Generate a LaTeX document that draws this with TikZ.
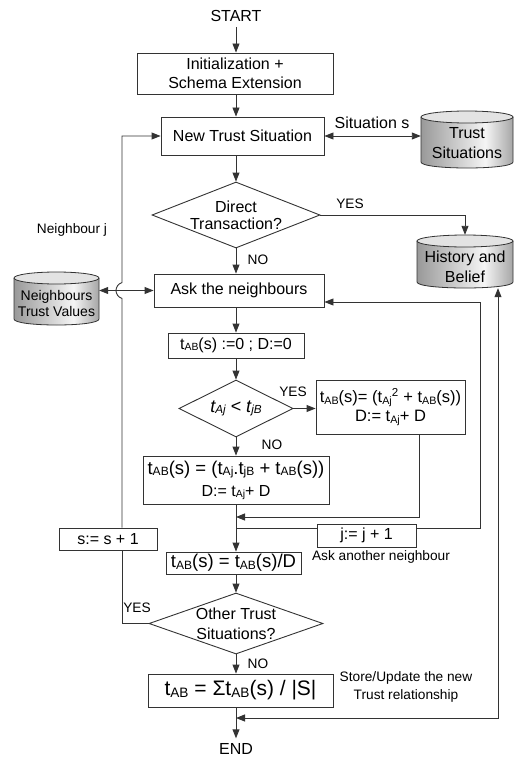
\documentclass[tikz,border=0pt]{standalone}
\usepackage{fontspec}
\setmainfont{Liberation Sans}
\usepackage{graphicx}
\usetikzlibrary{arrows.meta,shapes.geometric,calc}
\definecolor{lc}{gray}{0.2}
\pgfdeclarehorizontalshading{cylshade}{100bp}{color(0bp)=(gray!80); color(25bp)=(gray!80); color(60bp)=(gray!8); color(75bp)=(gray!70); color(100bp)=(gray!70)}
\newcommand{\sbx}[1]{\raisebox{-0.07em}{\scalebox{0.65}{#1}}}
\newcommand{\fs}[2]{\fontsize{#1}{#2}\selectfont}
\newcommand{\drawcyl}[9]{%
  \pgfmathsetmacro{\cylX}{(#2+#3)/2}%
  \pgfmathsetmacro{\cylR}{(#3-#2)/2}%
  \pgfmathsetmacro{\cylT}{#4+6}%
  \pgfmathsetmacro{\cylB}{#5-6}%
  \pgfmathsetmacro{\cylC}{#5+2}%
  \pgfmathsetmacro{\cylW}{#3-#2}%
  \pgfmathsetmacro{\cylH}{#5-#4}%
  \pgfmathsetmacro{\cylM}{(#4+#5)/2}%
  \shade[shading=cylshade] (#2,\cylT) -- (#2,\cylB) .. controls (#2,\cylC) and (#3,\cylC) .. (#3,\cylB) -- (#3,\cylT) -- cycle;
  \fill[gray!22] (\cylX,\cylT) ellipse [x radius=\cylR, y radius=6];
  \draw[lc, line width=0.8pt] (#2,\cylT) -- (#2,\cylB) .. controls (#2,\cylC) and (#3,\cylC) .. (#3,\cylB) -- (#3,\cylT);
  \draw[lc, line width=0.8pt] (\cylX,\cylT) ellipse [x radius=\cylR, y radius=6];
  \node[minimum width=\cylW pt, minimum height=\cylH pt, inner sep=0pt,
    label={[align=center, font=\fs{#6}{#7}, yshift=-#8pt]center:#9}] (#1) at (\cylX,\cylM) {};
}
\begin{document}
\begin{tikzpicture}[x=1pt,y=-1pt,
  font=\fs{16}{19},
  box/.style={draw=lc, line width=0.9pt, inner sep=0pt, fill=white},
  dia/.style={diamond, draw=lc, line width=0.9pt, inner sep=0pt},
  lbl/.style={font=\fs{13.7}{18}, inner sep=0pt},
  txt/.style={inner sep=5pt},
  ln/.style={draw=lc, line width=0.9pt},
  arr/.style={ln, -{Triangle[length=9pt,width=7pt]}},
  darr/.style={ln, {Triangle[length=9pt,width=7pt]}-{Triangle[length=9pt,width=7pt]}}]
\useasboundingbox (0,0) rectangle (514,757);

\coordinate (ax) at (236,0);
\coordinate (lx) at (122,0);
\coordinate (rx) at (498,0);
\coordinate (jx) at (480,302);
\coordinate (jy) at (236,528);
\coordinate (ry) at (419,517);
\coordinate (ey) at (236,718);

% cylinders
\drawcyl{ts}{421}{513}{111}{168}{16}{20}{3.5}{Trust\\Situations}
\drawcyl{hb}{417}{513}{235}{288}{16}{20}{5.5}{History and\\Belief}
\drawcyl{ntv}{14}{99}{272}{325}{14}{16}{4.5}{Neighbours\\Trust Values}

% nodes
\node[txt] (start) at (236,16) {START};
\node[box, minimum width=196pt, minimum height=41pt, align=center] (init) at (235,73.5) {Initialization +\\Schema Extension};
\node[box, minimum width=163pt, minimum height=38pt] (nts) at (242.5,136) {New Trust Situation};
\node[inner sep=0pt] (sits) at (372,123) {Situation s};
\node[dia, minimum width=168pt, minimum height=66pt,
  label={[align=center, font=\fs{16}{17}]center:Direct\\Transaction?}] (dt) at (236,215) {};
\node[lbl] (yes1) at (350,204) {YES};
\node[lbl] (nj) at (72,230) {Neighbour j};
\node[lbl] (no1) at (258,260) {NO};
\node[box, minimum width=170pt, minimum height=33pt] (ask) at (239,290.5) {Ask the neighbours};
\node[box, minimum width=136pt, minimum height=25pt] (ti) at (236,345.5) {t\sbx{AB}(s) :=0 ; D:=0};
\node[dia, minimum width=114pt, minimum height=57pt,
  label={[font=\itshape\fs{18}{20}]center:t\sbx{Aj} < t\sbx{jB}}] (d2) at (236,408.5) {};
\node[lbl] (yes2) at (293,392) {YES};
\node[box, minimum width=149pt, minimum height=54pt, align=center, font=\fs{16.5}{19}] (rb) at (390.5,407)
  {t\sbx{AB}(s)= (t\sbx{Aj}\textsuperscript{2} + t\sbx{AB}(s))\\D:= t\sbx{Aj}+ D};
\node[lbl] (no2) at (272,445) {NO};
\node[box, minimum width=186pt, minimum height=48pt, align=center, font=\fs{18.5}{22}] (lb) at (236,480)
  {t\sbx{AB}(s) = (t\sbx{Aj}.t\sbx{jB} + t\sbx{AB}(s))\\{\fs{16}{19}D:= t\sbx{Aj}+ D}};
\node[box, minimum width=99pt, minimum height=23pt] (jb) at (366.5,535.5) {j:= j + 1};
\node[lbl] (aan) at (381,557) {Ask another neighbour};
\node[box, minimum width=98pt, minimum height=22pt] (sb) at (108,539) {s:= s + 1};
\node[box, minimum width=135pt, minimum height=22pt, font=\fs{18.5}{22}] (dv) at (233.5,563) {t\sbx{AB}(s) = t\sbx{AB}(s)/D};
\node[dia, minimum width=174pt, minimum height=61pt,
  label={[align=center, font=\fs{16}{20}]center:Other Trust\\Situations?}] (d3) at (236,623.5) {};
\node[lbl] (yes3) at (137,608) {YES};
\node[lbl] (no3) at (258,664) {NO};
\node[box, minimum width=185pt, minimum height=33pt, font=\fs{21}{24}] (fb) at (240.5,690.5) {t\sbx{AB} = Σt\sbx{AB}(s) / |S|};
\node[lbl, align=center] (store) at (406,687) {Store/Update the new\\Trust relationship};
\node[txt] (end) at (236,749) {END};

% main flow
\draw[arr] (start.south) -- (init.north -| ax);
\draw[arr] (init.south -| ax) -- (nts.north -| ax);
\draw[arr] (nts.south -| ax) -- (dt.north);
\draw[arr] (dt.south) -- (ask.north -| ax);
\draw[arr] (ask.south -| ax) -- (ti.north -| ax);
\draw[arr] (ti.south -| ax) -- (d2.north);
\draw[arr] (d2.east) -- (d2.east -| rb.west);
\draw[arr] (d2.south) -- (lb.north -| ax);
\draw[arr] (lb.south -| ax) -- (dv.north -| ax);
\draw[arr] (dv.south -| ax) -- (d3.north);
\draw[arr] (d3.south) -- (fb.north -| ax);
\draw[arr] (fb.south -| ax) -- (end.north);

% side connections
\draw[darr] (nts.east) -- (nts.east -| ts.west);
\draw[arr] (dt.east) -| (hb.north);
\draw[darr] (ntv.east |- ask.west) -- (ask.west);
\draw[arr] (rb.south -| ry) |- (ry -| ax);
\draw[ln] (jy) -- (jy -| jb.west);
\draw[arr] (jy -| jb.east) -| (jx) -- (jx -| ask.east);
\draw[darr] (rx |- hb.south) -- (rx |- ey) -- (ey);

% loop back with line jump
\draw[ln] (d3.west) -| (lx |- sb.south);
\draw[arr] (lx |- sb.north) -- ($(lx |- ask.west)+(0,8)$)
  .. controls ($(lx |- ask.west)+(-8,5)$) and ($(lx |- ask.west)+(-8,-5)$) .. ($(lx |- ask.west)+(0,-8)$)
  |- (nts.west);
\end{tikzpicture}
\end{document}
